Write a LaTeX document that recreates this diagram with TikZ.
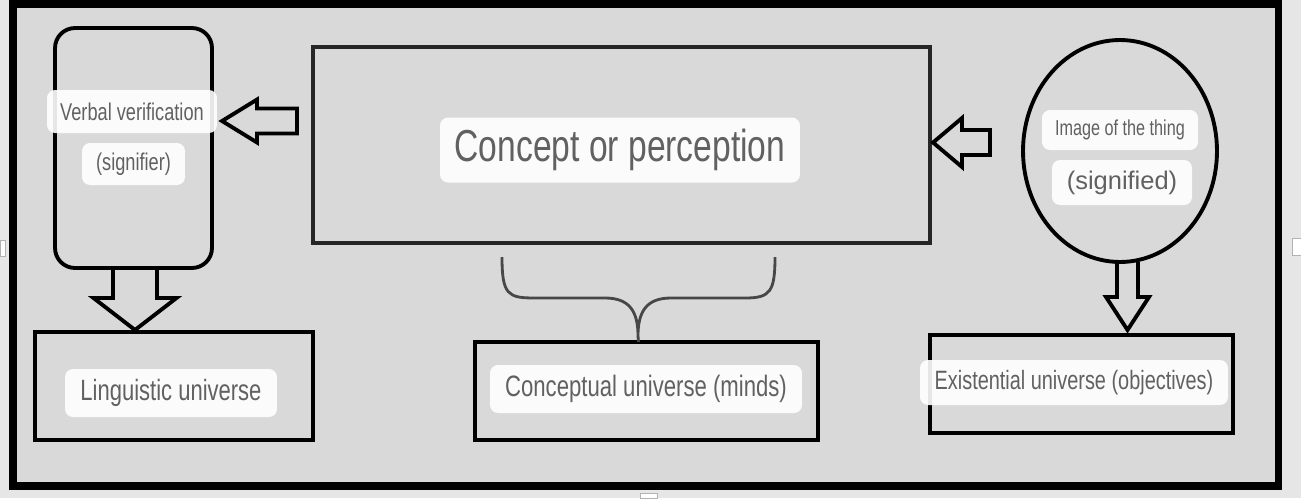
\documentclass[tikz,border=0pt]{standalone}
\usepackage{fontspec}
\setmainfont{Liberation Sans}
\newfontfamily\condfont{Liberation Sans}[FakeStretch=0.75]
\usetikzlibrary{calc,shapes.geometric}
\definecolor{bgout}{HTML}{E6E6E6}
\definecolor{bgin}{HTML}{D9D9D9}
\definecolor{txt}{HTML}{616161}
\begin{document}
\begin{tikzpicture}[x=0.02cm,y=-0.02cm,
box/.style={draw,line width=2.2pt,inner sep=0,outer sep=0},
lbl/.style={fill=white,fill opacity=.9,text opacity=1,text=txt,rounded corners=.16cm,inner sep=0},
hollow/.style={draw,line width=2.2pt},
curly/.style={draw=black!72,line width=1.6pt}]
\useasboundingbox(0,0)rectangle(1301,498);
\fill[bgout](0,0)rectangle(1301,498);
\fill[bgin](13,4)rectangle(1278,486);\draw[line width=4pt](13,4)rectangle(1278,486);
\draw[gray!60,fill=white](0,240)rectangle(5,256);\draw[gray!60,fill=white](1292,238)rectangle(1301,255);\draw[gray!60,fill=white](640,493)rectangle(657,498);
\node[box,rounded corners=.4cm,minimum width=3.14cm,minimum height=4.8cm](verb)at(133.5,148){};
\node[box,line width=1.8pt,draw=black!85,minimum width=12.34cm,minimum height=3.92cm](ctr)at(621.5,145){};
\node[box,ellipse,minimum width=3.88cm,minimum height=4.44cm](ell)at(1120,151){};
\node[box,minimum width=5.56cm,minimum height=2.16cm](ling)at(174,386){};
\node[box,minimum width=6.86cm,minimum height=1.96cm](cbox)at(646.5,391){};
\node[box,minimum width=6.06cm,minimum height=1.96cm](exist)at(1081.5,384){};
\draw[hollow]($(ctr.west)+(-16,-36.5)$)--++(-40,0)--++(0,-9)--++(-35,21.5)--++(35,21.5)--++(0,-9)--++(40,0)--cycle;
\draw[hollow]($(ell.west)+(-33,-21)$)--++(-28,0)--++(0,-12)--++(-29,24.5)--++(29,24.5)--++(0,-12)--++(28,0)--cycle;
\draw[hollow]($(verb.south)+(-20.5,0)$)--++(0,30)--++(-19.5,0)--++(41.5,32)--++(41.5,-32)--++(-19.5,0)--++(0,-30);
\draw[hollow]($(ell.south)+(-3,0)$)--++(0,35)--++(-11,0)--++(21.5,33)--++(21.5,-33)--++(-11,0)--++(0,-35);
\coordinate(bl)at(502,257);\coordinate(br)at(775,257);\coordinate(bt)at(638,336);
\draw[curly](bl)..controls(502,295)and(508,298)..(535,298)--(605,298)..controls(630,298)and(638,312)..(bt)..controls(638,312)and(646,298)..(671,298)--(745,298)..controls(770,298)and(775,292)..(br);
\draw[curly](bt)--($(cbox.north)+(-8,0)$);
\node[lbl,minimum width=3.4cm,minimum height=.86cm,font=\condfont\fontsize{13.8}{16}\selectfont](lverb)at(132,111.5){Verbal verification};
\node[lbl,minimum width=2.06cm,minimum height=.84cm,font=\condfont\fontsize{13.8}{16}\selectfont](lsig)at(133.5,164){(signifier)};
\node[lbl,minimum width=7.2cm,minimum height=1.3cm,font=\condfont\fontsize{25.5}{30}\selectfont](lctr)at(620,150){Concept or perception};
\node[lbl,minimum width=3.12cm,minimum height=.8cm,font=\condfont\fontsize{12.3}{14}\selectfont](limg)at(1120,130){Image of the thing};
\node[lbl,minimum width=2.8cm,minimum height=.9cm,font=\fontsize{14.5}{17}\selectfont](lsigd)at(1122,182.5){(signified)};
\node[lbl,minimum width=4.24cm,minimum height=.96cm,font=\condfont\fontsize{16.7}{19}\selectfont](lling)at(171,393){Linguistic universe};
\node[lbl,minimum width=6.24cm,minimum height=.96cm,font=\condfont\fontsize{16.8}{19}\selectfont](lcon)at(646,389){Conceptual universe (minds)};
\node[lbl,minimum width=6.16cm,minimum height=.9cm,font=\condfont\fontsize{15.1}{18}\selectfont](lex)at(1074,382.5){Existential universe (objectives)};
\end{tikzpicture}
\end{document}
